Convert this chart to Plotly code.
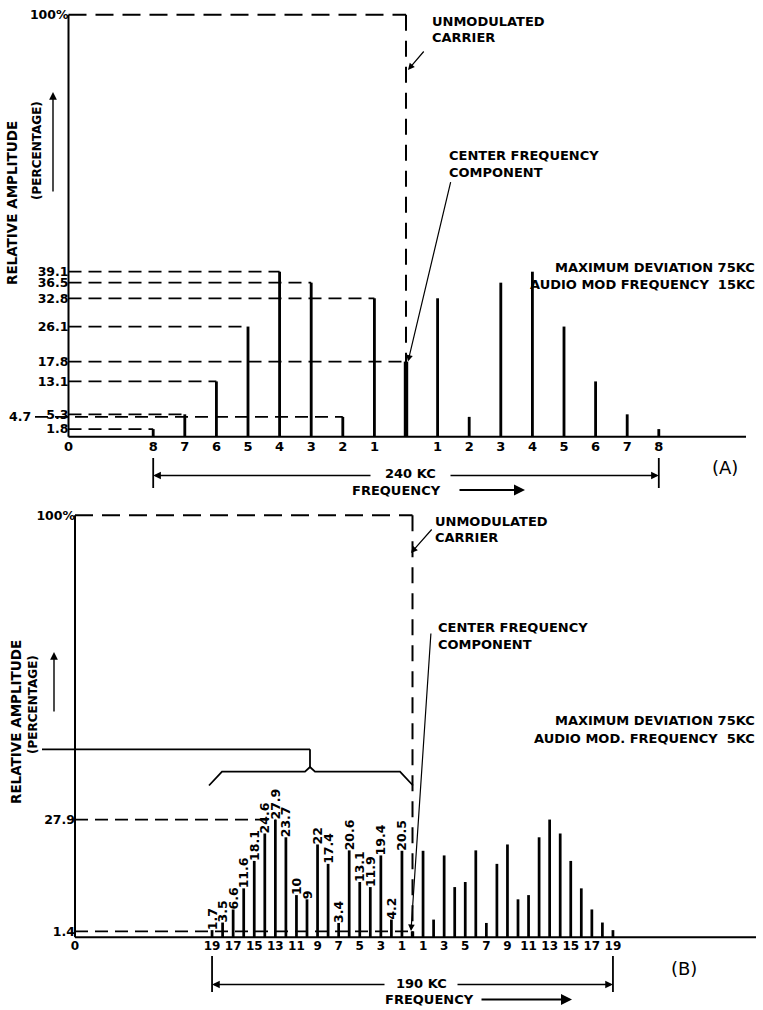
import plotly.graph_objects as go

# ---------------- DATA ----------------
# Panel (A): max deviation 75 kc, audio mod frequency 15 kc
a_orders_left = [-8, -7, -6, -5, -4, -3, -2, -1]
a_values_left = [1.8, 5.3, 13.1, 26.1, 39.1, 36.5, 4.7, 32.8]
a_orders_right = [1, 2, 3, 4, 5, 6, 7, 8]
a_values_right = [32.8, 4.7, 36.5, 39.1, 26.1, 13.1, 5.3, 1.8]
a_center_value = 17.8
a_tick_labels_left = ["8", "7", "6", "5", "4", "3", "2", "1"]
a_tick_labels_right = ["1", "2", "3", "4", "5", "6", "7", "8"]
a_ytick_values = [1.8, 5.3, 13.1, 17.8, 26.1, 32.8, 36.5, 39.1, 100]
a_ytick_labels = ["1.8", "5.3", "13.1", "17.8", "26.1", "32.8", "36.5", "39.1", "100%"]
a_shifted_label = 4.7

# Panel (B): max deviation 75 kc, audio mod frequency 5 kc
b_orders_left = list(range(-19, 0))
b_values_left = [1.7, 3.5, 6.6, 11.6, 18.1, 24.6, 27.9, 23.7, 10, 9, 22, 17.4,
                 3.4, 20.6, 13.1, 11.9, 19.4, 4.2, 20.5]
b_labels_left = ["1.7", "3.5", "6.6", "11.6", "18.1", "24.6", "27.9", "23.7", "10", "9",
                 "22", "17.4", "3.4", "20.6", "13.1", "11.9", "19.4", "4.2", "20.5"]
b_orders_right = list(range(1, 20))
b_values_right = [20.5, 4.2, 19.4, 11.9, 13.1, 20.6, 3.4, 17.4, 22, 9, 10, 23.7,
                  27.9, 24.6, 18.1, 11.6, 6.6, 3.5, 1.7]
b_center_value = 1.4
b_tick_orders = [-19, -17, -15, -13, -11, -9, -7, -5, -3, -1, 1, 3, 5, 7, 9, 11, 13, 15, 17, 19]
b_tick_labels = ["19", "17", "15", "13", "11", "9", "7", "5", "3", "1",
                 "1", "3", "5", "7", "9", "11", "13", "15", "17", "19"]
b_ytick_values = [1.4, 27.9, 100]
b_ytick_labels = ["1.4", "27.9", "100%"]
b_leader_values = [27.9, 1.4]
b_leader_orders = [-13, 0]

# ---------------- GEOMETRY (layout only) ----------------
W, H = 763, 1010
FONT = "DejaVu Sans"
Y_PX = 4.22                      # pixels per percent
A_PX, A_CX, A_BASE, A_AXIS = 31.6, 406.0, 436.7, 68.5
B_PX, B_CX, B_BASE, B_AXIS = 10.55, 412.5, 937.3, 75.0


def ax_(px):
    return (px - A_CX) / A_PX


def ay_(py):
    return (A_BASE - py) / Y_PX


def bx_(px):
    return (px - B_CX) / B_PX


def by_(py):
    return (B_BASE - py) / Y_PX


A0 = ax_(A_AXIS)
B0 = bx_(B_AXIS)

fig = go.Figure()

# ---------------- BARS ----------------
fig.add_trace(go.Bar(x=a_orders_left + a_orders_right, y=a_values_left + a_values_right,
                     width=0.09, marker=dict(color="black", line=dict(width=0)),
                     xaxis="x", yaxis="y", hoverinfo="x+y"))
fig.add_trace(go.Bar(x=[0], y=[a_center_value], width=0.14,
                     marker=dict(color="black", line=dict(width=0)),
                     xaxis="x", yaxis="y"))
fig.add_trace(go.Bar(x=b_orders_left, y=b_values_left, width=0.26,
                     marker=dict(color="black", line=dict(width=0)),
                     text=b_labels_left, textposition="outside", textangle=-90,
                     constraintext="none", cliponaxis=False,
                     textfont=dict(family=FONT, size=12.5, color="black", weight="bold"),
                     xaxis="x2", yaxis="y2"))
fig.add_trace(go.Bar(x=b_orders_right, y=b_values_right, width=0.26,
                     marker=dict(color="black", line=dict(width=0)),
                     xaxis="x2", yaxis="y2"))
fig.add_trace(go.Bar(x=[0], y=[b_center_value], width=0.32,
                     marker=dict(color="black", line=dict(width=0)),
                     xaxis="x2", yaxis="y2"))

shapes = []
ann = []


def line(x0, y0, x1, y1, xr, yr, w=2.0, dash="solid", layer="below"):
    shapes.append(dict(type="line", x0=x0, y0=y0, x1=x1, y1=y1, xref=xr, yref=yr,
                       line=dict(color="black", width=w, dash=dash), layer=layer))


def text(x, y, s, xr, yr, size=13, xanchor="left", angle=0, weight="bold"):
    ann.append(dict(x=x, y=y, xref=xr, yref=yr, text=s, showarrow=False,
                    xanchor=xanchor, yanchor="middle", textangle=angle,
                    font=dict(family=FONT, size=size, color="black", weight=weight)))


def arrow(hx, hy, tx, ty, xr, yr, pixel=False, w=1.4):
    d = dict(x=hx, y=hy, xref=xr, yref=yr, ax=tx, ay=ty, text="", showarrow=True,
             arrowhead=2, arrowsize=1.1, arrowwidth=w, arrowcolor="black", standoff=0)
    if not pixel:
        d.update(axref=xr, ayref=yr)
    ann.append(d)


DASH = "13px,7px"
DASH_BIG = "18px,9px"

# ---------------- PANEL A ----------------
line(A0, 0, A0, 100, "x", "y")                     # y axis
line(A0, 0, ax_(746), 0, "x", "y")                 # baseline
line(A0, 100, 0, 100, "x", "y", 2, DASH_BIG)        # 100 % level
line(0, 100, 0, 0, "x", "y", 2, "16px,10px")        # unmodulated carrier
for o, v in zip(a_orders_left, a_values_left):
    x_start = ax_(35) if v == a_shifted_label else A0
    line(x_start, v, o, v, "x", "y", 1.8, DASH)
line(A0, a_center_value, 0, a_center_value, "x", "y", 1.8, DASH)
text(ax_(33), a_shifted_label, str(a_shifted_label), "x", "y", 12.5, "right")

# y title
text(ax_(12), ay_(203), "RELATIVE AMPLITUDE", "x", "y", 13.5, "center", -90)
text(ax_(37), ay_(151), "(PERCENTAGE)", "x", "y", 12, "center", -90)
arrow(ax_(53), ay_(92), ax_(53), ay_(193), "x", "y")

text(ax_(430), ay_(21), "UNMODULATED", "x", "y")
text(ax_(430), ay_(37), "CARRIER", "x", "y")
arrow(ax_(408), ay_(70), 17, -20, "x", "y", pixel=True, w=1.2)
text(ax_(447), ay_(155), "CENTER FREQUENCY", "x", "y")
text(ax_(447), ay_(172), "COMPONENT", "x", "y")
arrow(ax_(408), a_center_value, 43, -181, "x", "y", pixel=True, w=1.2)
text(ax_(757), ay_(267), "MAXIMUM DEVIATION 75KC", "x", "y", 13, "right")
text(ax_(757), ay_(284), "AUDIO MOD FREQUENCY  15KC", "x", "y", 13, "right")

# span 240 KC
for o in (a_orders_left[0], a_orders_right[-1]):
    line(o, ay_(458), o, ay_(488), "x", "y", 1.8, "solid", "above")
text(ax_(410), ay_(473), "240 KC", "x", "y", 13, "center")
arrow(a_orders_left[0], ay_(475.5), ax_(372), ay_(475.5), "x", "y")
arrow(a_orders_right[-1], ay_(475.5), ax_(449), ay_(475.5), "x", "y")
text(ax_(396), ay_(490), "FREQUENCY", "x", "y", 13, "center")
arrow(ax_(525), ay_(490), ax_(458), ay_(490), "x", "y", w=2)
text(ax_(725), ay_(467), "(A)", "x", "y", 18, "center", weight="normal")

# ---------------- PANEL B ----------------
line(B0, 0, B0, 100, "x2", "y2")
line(B0, 0, bx_(756), 0, "x2", "y2")
line(B0, 100, 0, 100, "x2", "y2", 2, DASH_BIG)
line(0, 100, 0, 0, "x2", "y2", 2, "16px,10px")
for o, v in zip(b_leader_orders, b_leader_values):
    line(B0, v, o, v, "x2", "y2", 1.8, DASH)

# bracket
line(bx_(42), by_(749.3), bx_(310), by_(749.3), "x2", "y2", 1.8)
line(bx_(310), by_(749.3), bx_(310), by_(767), "x2", "y2", 1.8)
shapes.append(dict(type="path", xref="x2", yref="y2",
                   path="M {},{} L {},{} L {},{} L {},{} L {},{} L {},{} L {},{}".format(
                       bx_(209), by_(785.5), bx_(222), by_(771.7), bx_(305), by_(771.7),
                       bx_(310), by_(767), bx_(315), by_(771.7), bx_(400), by_(771.7),
                       bx_(413), by_(785.5)),
                   line=dict(color="black", width=1.8)))

text(bx_(16), by_(722), "RELATIVE AMPLITUDE", "x2", "y2", 13.5, "center", -90)
text(bx_(33), by_(705), "(PERCENTAGE)", "x2", "y2", 12, "center", -90)
arrow(bx_(54), by_(652), bx_(54), by_(713), "x2", "y2")

text(bx_(433), by_(521), "UNMODULATED", "x2", "y2")
text(bx_(433), by_(537), "CARRIER", "x2", "y2")
arrow(bx_(411), by_(553), 22, -25, "x2", "y2", pixel=True, w=1.2)
text(bx_(436), by_(627), "CENTER FREQUENCY", "x2", "y2")
text(bx_(436), by_(644), "COMPONENT", "x2", "y2")
arrow(bx_(411), by_(931), 20, -299, "x2", "y2", pixel=True, w=1.2)
text(bx_(757), by_(720), "MAXIMUM DEVIATION 75KC", "x2", "y2", 13, "right")
text(bx_(757), by_(738), "AUDIO MOD. FREQUENCY  5KC", "x2", "y2", 13, "right")

for o in (b_orders_left[0], b_orders_right[-1]):
    line(o, by_(956), o, by_(992), "x2", "y2", 1.8, "solid", "above")
text(bx_(421), by_(983), "190 KC", "x2", "y2", 13, "center")
arrow(b_orders_left[0], by_(984.5), bx_(386), by_(984.5), "x2", "y2")
arrow(b_orders_right[-1], by_(984.5), bx_(456), by_(984.5), "x2", "y2")
text(bx_(429), by_(999.5), "FREQUENCY", "x2", "y2", 13, "center")
arrow(bx_(572), by_(999.5), bx_(480), by_(999.5), "x2", "y2", w=2)
text(bx_(684), by_(968), "(B)", "x2", "y2", 18, "center", weight="normal")

# ---------------- AXES ----------------
common = dict(showgrid=False, zeroline=False, showline=False, ticks="", fixedrange=True)
fig.update_layout(
    width=W, height=H, margin=dict(l=0, r=0, t=0, b=0),
    paper_bgcolor="white", plot_bgcolor="white", showlegend=False, barmode="overlay",
    font=dict(family=FONT, color="black"),
    xaxis=dict(domain=[0, 1], range=[ax_(0), ax_(W)], anchor="free", position=1 - A_BASE / H,
               tickvals=[A0] + a_orders_left + a_orders_right,
               ticktext=["0"] + a_tick_labels_left + a_tick_labels_right,
               tickfont=dict(family=FONT, size=13, color="black", weight="bold"), **common),
    yaxis=dict(domain=[0.5, 1], range=[ay_(505), ay_(0)], anchor="free", position=A_AXIS / W,
               tickvals=a_ytick_values, ticktext=a_ytick_labels,
               tickfont=dict(family=FONT, size=12.5, color="black", weight="bold"), **common),
    xaxis2=dict(domain=[0, 1], range=[bx_(0), bx_(W)], anchor="free", position=1 - B_BASE / H,
                tickvals=[B0] + b_tick_orders, ticktext=["0"] + b_tick_labels,
                tickfont=dict(family=FONT, size=12, color="black", weight="bold"), **common),
    yaxis2=dict(domain=[0, 0.5], range=[by_(H), by_(505)], anchor="free", position=B_AXIS / W,
                tickvals=b_ytick_values, ticktext=b_ytick_labels,
                tickfont=dict(family=FONT, size=12.5, color="black", weight="bold"), **common),
    shapes=shapes, annotations=ann,
)

fig.write_html("out.html", config={"displayModeBar": False},
               post_script="document.body.style.margin='0px';document.body.style.padding='0px';")
